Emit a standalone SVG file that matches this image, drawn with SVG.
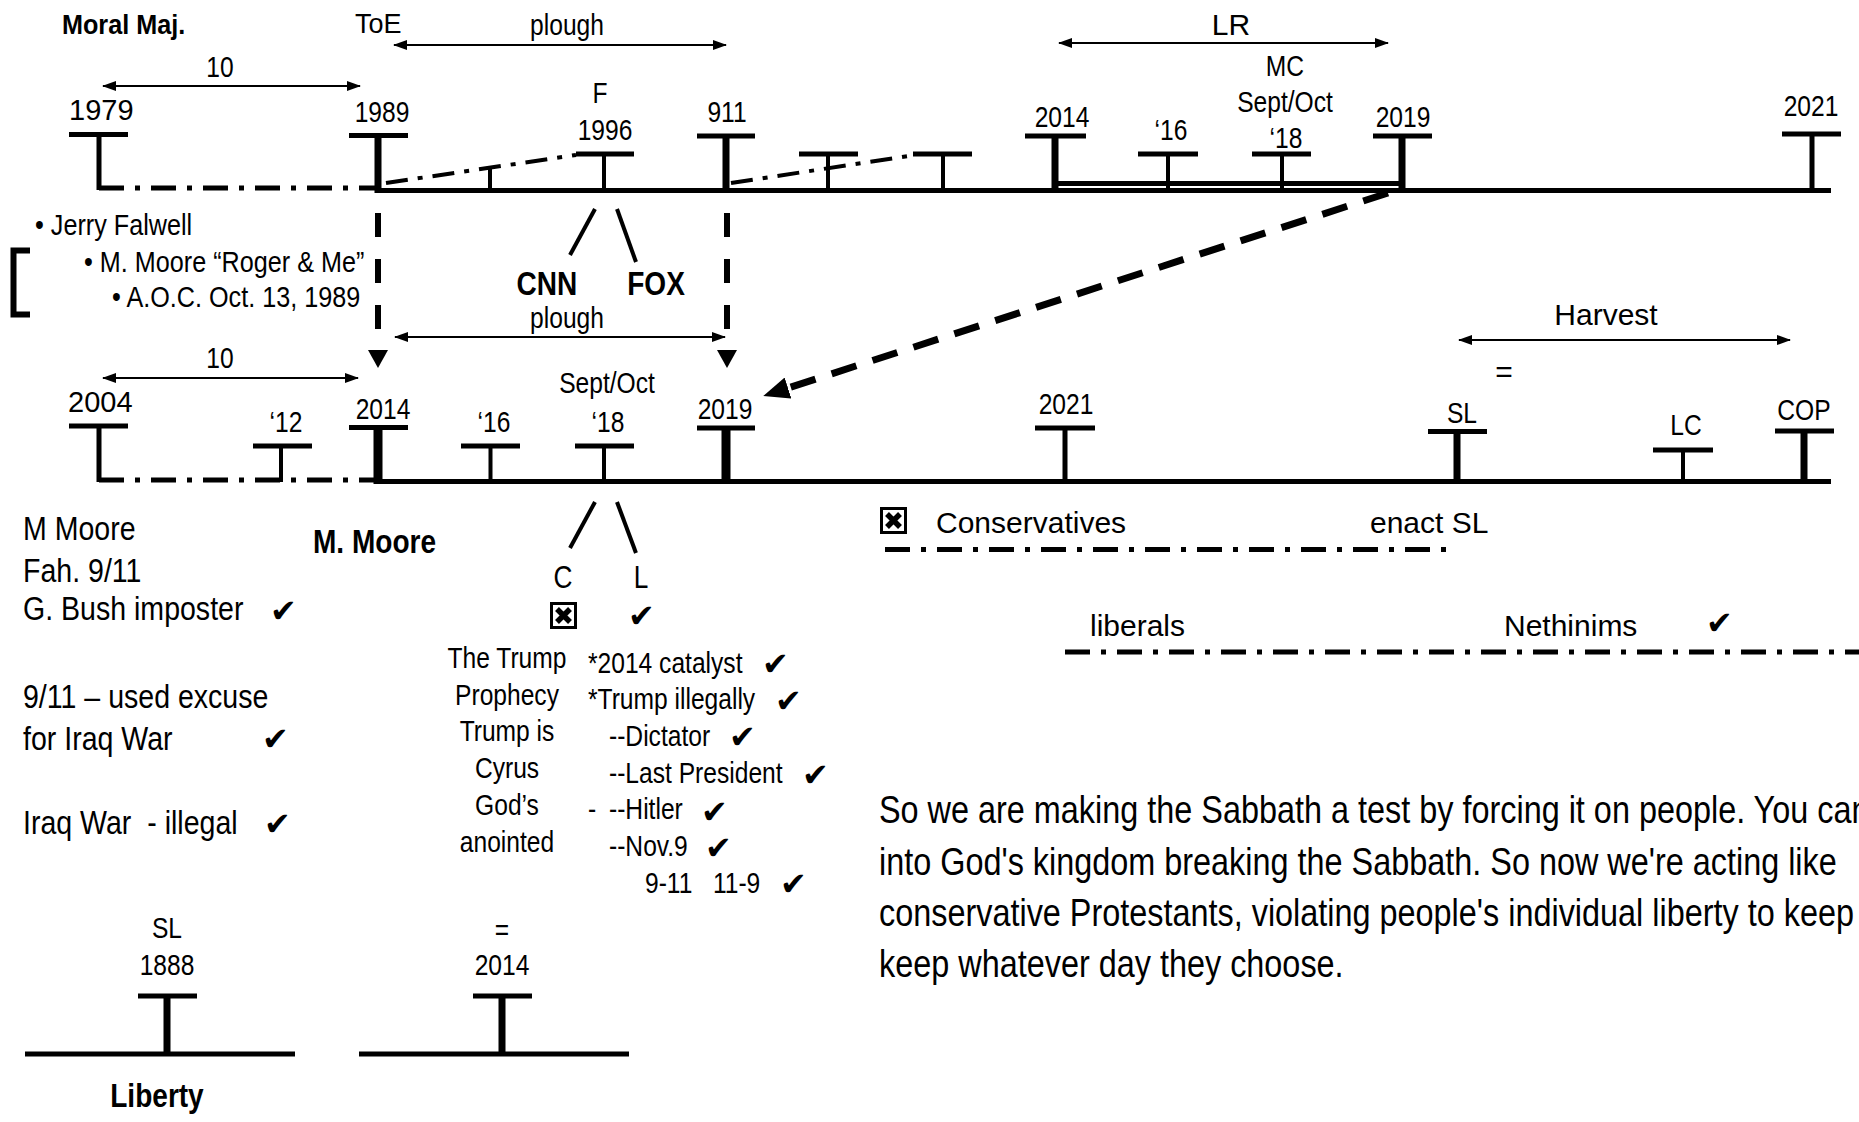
<svg xmlns="http://www.w3.org/2000/svg" width="1859" height="1122" viewBox="0 0 1859 1122">
<defs>
<style>
text{font-family:"Liberation Sans",Arial,sans-serif;fill:#000}
.r27{font-size:27px}
.r29{font-size:29px}
.r30{font-size:30px}
.mb{font-size:28px;font-weight:bold;transform:scaleX(.9)}
.t{transform-box:fill-box;transform-origin:50% 50%}
.s{transform-origin:0 50%}
.n1{font-size:30px;transform:scaleX(.82)}
.n1b{font-size:32px;transform:scaleX(.82)}
.n2{font-size:30px;transform:scaleX(.84)}
.n3{font-size:33px;transform:scaleX(.865)}
.n4{font-size:30px;transform:scaleX(.82)}
.b{font-size:33px;font-weight:bold;transform:scaleX(.85)}
.p{font-size:38px;transform:scaleX(.853)}
.ck{font-family:"DejaVu Sans",sans-serif;font-size:32px}
.m{text-anchor:middle}
.pre{white-space:pre}
.bar{fill:#000}
.ln{stroke:#000;fill:none}
.thin{stroke:#000;stroke-width:1.8;fill:none;marker-start:url(#ah);marker-end:url(#ah)}
.dd{stroke:#000;stroke-width:5;fill:none;stroke-dasharray:25 11 5 11}
.dd4{stroke:#000;stroke-width:4;fill:none;stroke-dasharray:22 10 5 10}
.dv{stroke:#000;stroke-width:6;fill:none;stroke-dasharray:24 22;marker-end:url(#dh)}
</style>
<marker id="ah" viewBox="0 0 14 10" refX="13" refY="5" markerWidth="14" markerHeight="10" markerUnits="userSpaceOnUse" orient="auto-start-reverse"><path d="M0,0 L14,5 L0,10 z"/></marker>
<marker id="dh" viewBox="0 0 18 20" refX="0" refY="10" markerWidth="18" markerHeight="20" markerUnits="userSpaceOnUse" orient="auto"><path d="M0,0 L18,10 L0,20 z"/></marker>
<marker id="dh2" viewBox="0 0 26 22" refX="0" refY="11" markerWidth="26" markerHeight="22" markerUnits="userSpaceOnUse" orient="auto"><path d="M0,0 L26,11 L0,22 z"/></marker>
<g id="xbox"><rect x="1.5" y="1.5" width="24" height="24" fill="#fff" stroke="#000" stroke-width="3"/><path d="M7,7 L20,20 M20,7 L7,20" stroke="#000" stroke-width="5.5"/></g>
</defs>
<rect width="1859" height="1122" fill="#fff"/>

<g id="timelines">
<line class="ln" x1="376" y1="190.5" x2="1831" y2="190.5" stroke-width="5"/>
<line class="dd" x1="99" y1="188" x2="378" y2="188"/>
<line class="ln" x1="1052" y1="183.5" x2="1404" y2="183.5" stroke-width="5"/>
<line class="ln" x1="376" y1="481.5" x2="1831" y2="481.5" stroke-width="5"/>
<line class="dd" x1="99" y1="480" x2="378" y2="480"/>
<line class="ln" x1="25" y1="1054" x2="295" y2="1054" stroke-width="5"/>
<line class="ln" x1="359" y1="1054" x2="629" y2="1054" stroke-width="5"/>
</g>

<g id="n-moral"><text class="mb t s" x="62" y="34">Moral Maj.</text></g>
<g id="n-toe"><text class="r27" x="355" y="33">ToE</text></g>
<g id="n-1979"><text class="r29" x="69" y="120">1979</text><rect class="bar" x="69" y="132" width="59" height="5"/><rect class="bar" x="96.5" y="137" width="5" height="53"/></g>
<g id="n-1989"><text class="n1 t m" x="382" y="122">1989</text><rect class="bar" x="349" y="133" width="59" height="5"/><rect class="bar" x="374.5" y="138" width="7" height="55"/></g>
<g id="n-tick490"><rect class="bar" x="488" y="166" width="4" height="25"/></g>
<g id="n-1996"><text class="n1 t m" x="600" y="103">F</text><text class="n1 t m" x="605" y="140">1996</text><rect class="bar" x="576" y="151.5" width="58" height="5"/><rect class="bar" x="602" y="156" width="4" height="35"/></g>
<g id="n-911"><text class="n1 t m" x="727" y="122">911</text><rect class="bar" x="697" y="133.5" width="58" height="5"/><rect class="bar" x="722.5" y="138" width="7" height="55"/></g>
<g id="n-tickA"><rect class="bar" x="799" y="151.5" width="59" height="5"/><rect class="bar" x="826" y="156" width="4" height="35"/></g>
<g id="n-tickB"><rect class="bar" x="913" y="151.5" width="59" height="5"/><rect class="bar" x="941" y="156" width="4" height="35"/></g>
<g id="n-2014t"><text class="n1 t m" x="1062" y="127">2014</text><rect class="bar" x="1025" y="133.5" width="61" height="5"/><rect class="bar" x="1051.5" y="138" width="7" height="53"/></g>
<g id="n-16t"><text class="n1 t m" x="1171" y="140">‘16</text><rect class="bar" x="1138" y="151.5" width="60" height="5"/><rect class="bar" x="1166" y="156" width="4" height="35"/></g>
<g id="n-18t"><text class="n1 t m" x="1285" y="76">MC</text><text class="n1 t m" x="1285" y="112">Sept/Oct</text><text class="n1 t m" x="1286" y="148">‘18</text><rect class="bar" x="1252" y="151.5" width="59" height="5"/><rect class="bar" x="1280" y="156" width="4" height="35"/></g>
<g id="n-2019t"><text class="n1 t m" x="1403" y="127">2019</text><rect class="bar" x="1373" y="133.5" width="59" height="5"/><rect class="bar" x="1398.5" y="138" width="7" height="55"/></g>
<g id="n-2021t"><text class="n1 t m" x="1811" y="116">2021</text><rect class="bar" x="1782" y="131.5" width="59" height="5"/><rect class="bar" x="1809.5" y="136" width="5" height="55"/></g>
<g id="n-lr"><text class="r30 m" x="1231" y="35">LR</text></g>

<g id="n-bullets">
<text class="n2 t s" x="35" y="235">• Jerry Falwell</text>
<text class="n2 t s" x="84" y="272">• M. Moore “Roger &amp; Me”</text>
<text class="n2 t s" x="112" y="307">• A.O.C. Oct. 13, 1989</text>
<path class="ln" d="M30,250.5 H13.5 V314.5 H30" stroke-width="6"/>
</g>
<g id="n-cnnfox"><text class="b t m" x="547" y="295">CNN</text><text class="b t m" x="656" y="295">FOX</text></g>

<g id="n-2004"><text class="r29" x="68" y="412">2004</text><rect class="bar" x="69" y="423.5" width="59" height="5"/><rect class="bar" x="96.5" y="428" width="5" height="54"/></g>
<g id="n-12"><text class="n1 t m" x="286" y="432">‘12</text><rect class="bar" x="253" y="443.5" width="59" height="5"/><rect class="bar" x="279" y="448" width="4" height="34"/></g>
<g id="n-2014b"><text class="n1 t m" x="383" y="419">2014</text><rect class="bar" x="349" y="425" width="59" height="5"/><rect class="bar" x="373.5" y="430" width="9" height="54"/></g>
<g id="n-16b"><text class="n1 t m" x="494" y="432">‘16</text><rect class="bar" x="461" y="443.5" width="59" height="5"/><rect class="bar" x="488.5" y="448" width="4" height="34"/></g>
<g id="n-18b"><text class="n1 t m" x="607" y="393">Sept/Oct</text><text class="n1 t m" x="608" y="432">‘18</text><rect class="bar" x="575" y="443.5" width="59" height="5"/><rect class="bar" x="602" y="448" width="4" height="34"/></g>
<g id="n-2019b"><text class="n1 t m" x="725" y="419">2019</text><rect class="bar" x="697" y="425.5" width="58" height="5"/><rect class="bar" x="721.5" y="430" width="9" height="54"/></g>
<g id="n-2021b"><text class="n1 t m" x="1066" y="414">2021</text><rect class="bar" x="1035" y="425.5" width="60" height="5"/><rect class="bar" x="1062.5" y="430" width="5" height="52"/></g>
<g id="n-sl"><text class="n1 t m" x="1462" y="423">SL</text><rect class="bar" x="1428" y="429" width="59" height="5"/><rect class="bar" x="1453.5" y="434" width="7" height="50"/></g>
<g id="n-lc"><text class="n1 t m" x="1686" y="435">LC</text><rect class="bar" x="1653" y="447.5" width="60" height="5"/><rect class="bar" x="1681" y="452" width="4" height="30"/></g>
<g id="n-cop"><text class="n1 t m" x="1804" y="420">COP</text><rect class="bar" x="1775" y="428.5" width="59" height="5"/><rect class="bar" x="1800.5" y="433" width="7" height="51"/></g>
<g id="n-harvest"><text class="r30 m" x="1606" y="325">Harvest</text><text class="r30 m" x="1504" y="382">=</text></g>

<g id="n-mmoore-list">
<text class="n3 t s" x="23" y="540">M Moore</text>
<text class="n3 t s" x="23" y="582">Fah. 9/11</text>
<text class="n3 t s" x="23" y="620">G. Bush imposter</text>
<text class="ck" x="270" y="622">✔</text>
<text class="n3 t s" x="23" y="708">9/11 – used excuse</text>
<text class="n3 t s" x="23" y="750">for Iraq War</text>
<text class="ck" x="262" y="750">✔</text>
<text class="n3 t s pre" x="23" y="834">Iraq War  - illegal</text>
<text class="ck" x="264" y="835">✔</text>
</g>
<g id="n-mmoore"><text class="b t s" x="313" y="553">M. Moore</text></g>

<g id="n-cl">
<text class="n1b t m" x="563" y="588">C</text>
<text class="n1b t m" x="641" y="588">L</text>
<use href="#xbox" x="550" y="602"/>
<text class="ck" x="628" y="627">✔</text>
</g>
<g id="n-trump">
<text class="n4 t m" x="507" y="668">The Trump</text>
<text class="n4 t m" x="507" y="705">Prophecy</text>
<text class="n4 t m" x="507" y="741">Trump is</text>
<text class="n4 t m" x="507" y="778">Cyrus</text>
<text class="n4 t m" x="507" y="815">God’s</text>
<text class="n4 t m" x="507" y="852">anointed</text>
</g>
<g id="n-catalyst">
<text class="n4 t s" x="588" y="673">*2014 catalyst</text><text class="ck" x="762" y="675">✔</text>
<text class="n4 t s" x="588" y="709">*Trump illegally</text><text class="ck" x="775" y="712">✔</text>
<text class="n4 t s" x="609" y="746">--Dictator</text><text class="ck" x="729" y="748">✔</text>
<text class="n4 t s" x="609" y="783">--Last President</text><text class="ck" x="802" y="786">✔</text>
<text class="n4 t s" x="588" y="819">-</text><text class="n4 t s" x="609" y="819">--Hitler</text><text class="ck" x="701" y="823">✔</text>
<text class="n4 t s" x="609" y="856">--Nov.9</text><text class="ck" x="705" y="859">✔</text>
<text class="n4 t s pre" x="645" y="893">9-11   11-9</text><text class="ck" x="780" y="895">✔</text>
</g>

<g id="n-conservatives">
<use href="#xbox" x="880" y="507"/>
<text class="r30" x="936" y="533">Conservatives</text>
<text class="r30" x="1370" y="533">enact SL</text>
<line class="dd" x1="885" y1="549.5" x2="1452" y2="549.5"/>
</g>
<g id="n-liberals">
<text class="r30" x="1090" y="636">liberals</text>
<text class="r30" x="1504" y="636">Nethinims</text>
<text class="ck" x="1706" y="634">✔</text>
<line class="dd" x1="1065" y1="652" x2="1859" y2="652"/>
</g>

<g id="n-liberty1888"><text class="n4 t m" x="167" y="938">SL</text><text class="n4 t m" x="167" y="975">1888</text><rect class="bar" x="138" y="993.5" width="59" height="5"/><rect class="bar" x="163.5" y="998" width="7" height="54"/><text class="b t m" x="157" y="1107">Liberty</text></g>
<g id="n-liberty2014"><text class="n4 t m" x="502" y="940">=</text><text class="n4 t m" x="502" y="975">2014</text><rect class="bar" x="473" y="993.5" width="59" height="5"/><rect class="bar" x="498.5" y="998" width="7" height="54"/></g>

<g id="n-paragraph">
<text class="p t s" x="879" y="823">So we are making the Sabbath a test by forcing it on people. You can</text>
<text class="p t s" x="879" y="875">into God's kingdom breaking the Sabbath. So now we're acting like</text>
<text class="p t s" x="879" y="926">conservative Protestants, violating people's individual liberty to keep</text>
<text class="p t s" x="879" y="977">keep whatever day they choose.</text>
</g>

<g id="connectors">
<line class="thin" x1="103" y1="86" x2="360" y2="86"/>
<text class="n1 t m" x="220" y="77">10</text>
<line class="thin" x1="394" y1="45" x2="726" y2="45"/>
<text class="n1 t m" x="567" y="35">plough</text>
<line class="thin" x1="1059" y1="43" x2="1388" y2="43"/>
<line class="dd4" x1="386" y1="183" x2="576" y2="155"/>
<line class="dd4" x1="731" y1="183" x2="915" y2="155"/>
<line class="ln" x1="595" y1="209" x2="570" y2="255" stroke-width="4"/>
<line class="ln" x1="617" y1="209" x2="636" y2="262" stroke-width="4"/>
<line class="dv" x1="378" y1="213" x2="378" y2="350"/>
<line class="dv" x1="727" y1="213" x2="727" y2="350"/>
<line class="thin" x1="395" y1="337" x2="725" y2="337"/>
<text class="n1 t m" x="567" y="328">plough</text>
<line class="thin" x1="103" y1="378" x2="358" y2="378"/>
<text class="n1 t m" x="220" y="368">10</text>
<line x1="1388" y1="193" x2="788" y2="388" stroke="#000" stroke-width="7" stroke-dasharray="26 17" marker-end="url(#dh2)"/>
<line class="thin" x1="1459" y1="340" x2="1790" y2="340"/>
<line class="ln" x1="595" y1="502" x2="570" y2="548" stroke-width="4"/>
<line class="ln" x1="617" y1="502" x2="636" y2="553" stroke-width="4"/>
</g>
</svg>
